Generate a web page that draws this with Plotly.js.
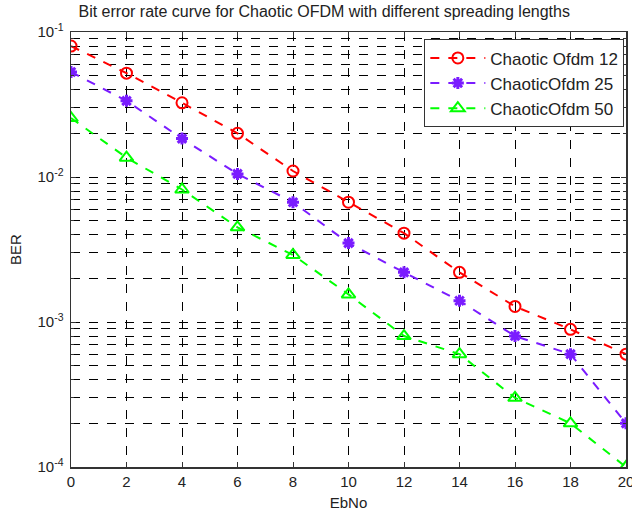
<!DOCTYPE html>
<html>
<head>
<meta charset="utf-8">
<script src="https://cdn.plot.ly/plotly-3.0.1.min.js"></script>
<style>html,body{margin:0;padding:0;background:#fff;}#chart{width:632px;height:514px;}</style>
</head>
<body>
<div id="chart"></div>
<script>
const ebno = [0, 2, 4, 6, 8, 10, 12, 14, 16, 18, 20];
const berOfdm12 = [0.080, 0.052, 0.0325, 0.020, 0.011, 0.0067, 0.0041, 0.0022, 0.00128, 0.00089, 0.0006];
const berOfdm25 = [0.053, 0.0335, 0.0184, 0.0105, 0.0067, 0.0035, 0.0022, 0.0014, 0.00080, 0.0006, 0.0002];
const berOfdm50 = [0.0255, 0.0136, 0.0082, 0.0045, 0.0029, 0.00155, 0.0008, 0.0006, 0.0003, 0.0002, 0.0001];
const seriesNames = ['Chaotic Ofdm 12', 'ChaoticOfdm 25', 'ChaoticOfdm 50'];
const xTicks = [0, 2, 4, 6, 8, 10, 12, 14, 16, 18, 20];
const yMajorTicks = [0.0001, 0.001, 0.01, 0.1];
const yMajorLabels = ['10<sup>-4</sup>', '10<sup>-3</sup>', '10<sup>-2</sup>', '10<sup>-1</sup>'];
const yMinorTicks = [
  0.0002, 0.0003, 0.0004, 0.0005, 0.0006, 0.0007, 0.0008, 0.0009,
  0.002, 0.003, 0.004, 0.005, 0.006, 0.007, 0.008, 0.009,
  0.02, 0.03, 0.04, 0.05, 0.06, 0.07, 0.08, 0.09
];

const font = {family: 'Liberation Sans, Arial, sans-serif', color: '#222'};
const f = s => Object.assign({size: s}, font);

const traces = [
  {x: ebno, y: berOfdm12, name: seriesNames[0], mode: 'lines+markers',
   line: {color: '#ff0000', dash: 'dash', width: 2},
   marker: {symbol: 'circle-open', size: 11, color: '#ff0000', line: {width: 2, color: '#ff0000'}}},
  {x: ebno, y: berOfdm25, name: seriesNames[1], mode: 'lines+markers',
   line: {color: '#7a1cff', dash: 'dash', width: 2},
   marker: {symbol: 'asterisk-open', size: 10, color: '#7a1cff', line: {width: 3, color: '#7a1cff'}}},
  {x: ebno, y: berOfdm50, name: seriesNames[2], mode: 'lines+markers',
   line: {color: '#00ff00', dash: 'dash', width: 2},
   marker: {symbol: 'triangle-up-open', size: 12, color: '#00ff00', line: {width: 2, color: '#00ff00'}}}
];

const layout = {
  width: 632, height: 514,
  margin: {l: 71, r: 6, t: 32, b: 47},
  paper_bgcolor: '#fff', plot_bgcolor: '#fff',
  font: f(15),
  title: {text: 'Bit error rate curve for Chaotic OFDM with different spreading lengths',
          font: f(16), x: 0.513, xanchor: 'center', y: 0.988, yanchor: 'top'},
  xaxis: {
    range: [0, 20], tickvals: xTicks, ticktext: xTicks.map(String),
    showgrid: true, gridcolor: '#000', griddash: 'dash', gridwidth: 1,
    showline: true, mirror: 'ticks', linecolor: '#333', linewidth: 1.5,
    ticks: 'inside', ticklen: 5, tickcolor: '#333', zeroline: false,
    ticklabeloverflow: 'allow', automargin: false,
    tickfont: f(15),
    title: {text: 'EbNo', font: f(15), standoff: 9}
  },
  yaxis: {
    type: 'log', range: [-4, -1], tickvals: yMajorTicks, ticktext: yMajorLabels,
    showgrid: true, gridcolor: '#000', griddash: 'dash', gridwidth: 1,
    showline: true, mirror: 'ticks', linecolor: '#333', linewidth: 1.5,
    ticks: 'inside', ticklen: 5, tickcolor: '#333', zeroline: false,
    ticklabelstandoff: 3, automargin: false,
    minor: {tickvals: yMinorTicks, showgrid: true, gridcolor: '#000', griddash: 'dash',
            gridwidth: 1, ticks: 'inside', ticklen: 3, tickcolor: '#333'},
    tickfont: f(15),
    title: {text: 'BER', font: f(15), standoff: 12}
  },
  legend: {
    x: 0.997, xanchor: 'right', y: 0.983, yanchor: 'top',
    bgcolor: '#fff', bordercolor: '#333', borderwidth: 1,
    font: f(17), tracegroupgap: 0, itemwidth: 55
  },
  showlegend: true
};

Plotly.newPlot('chart', traces, layout, {displayModeBar: false, staticPlot: true});
</script>
</body>
</html>
